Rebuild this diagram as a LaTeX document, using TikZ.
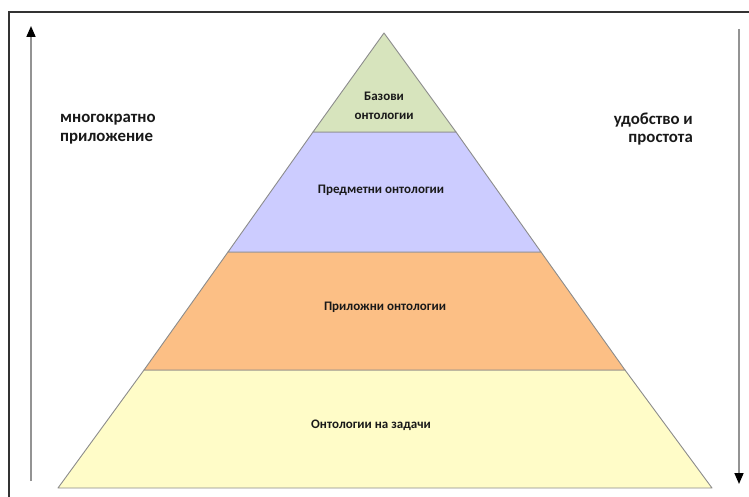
\documentclass[tikz,border=0pt]{standalone}
\usepackage{fontspec}
\setmainfont{Carlito}
\usetikzlibrary{arrows.meta}
\definecolor{tierA}{HTML}{D7E4BD}
\definecolor{tierB}{HTML}{CCCCFF}
\definecolor{tierC}{HTML}{FCBF85}
\definecolor{tierD}{HTML}{FFFCC8}
\definecolor{edgegray}{HTML}{8C8C8C}
\tikzset{
  tier/.style={draw=edgegray, line width=0.9pt, line join=round},
  tierlabel/.style={font=\bfseries\fontsize{13}{19}\selectfont, text=black!90, align=center},
  sidelabel/.style={font=\bfseries\fontsize{16.8}{18.5}\selectfont, text=black!90, inner sep=0pt},
  axis/.style={draw=gray!85, line width=1.6pt, -{Triangle[length=11pt,width=9pt,color=black]}},
  frameline/.style={draw=black!80, line width=1.4pt}
}
\begin{document}
\begin{tikzpicture}[x=1pt,y=-1pt]
\useasboundingbox (0,0) rectangle (749,497);
\fill[white] (0,0) rectangle (749,497);
% partial frame
\draw[frameline] (9,497) -- (9,12) -- (749,12);
% pyramid corners
\coordinate (apex) at (384,33);
\coordinate (l1) at (313,132); \coordinate (r1) at (456,132);
\coordinate (l2) at (228,252); \coordinate (r2) at (541,252);
\coordinate (l3) at (144,370); \coordinate (r3) at (625,370);
\coordinate (l4) at (58,488);  \coordinate (r4) at (712,488);
% tiers
\filldraw[tier, fill=tierD] (l3) -- (r3) -- (r4) -- (l4) -- cycle;
\filldraw[tier, fill=tierC] (l2) -- (r2) -- (r3) -- (l3) -- cycle;
\filldraw[tier, fill=tierB] (l1) -- (r1) -- (r2) -- (l2) -- cycle;
\filldraw[tier, fill=tierA] (apex) -- (r1) -- (l1) -- cycle;
% tier labels
\node[tierlabel] (base) at (384,106) {Базови\\онтологии};
\node[tierlabel] (domain) at (381,190) {Предметни онтологии};
\node[tierlabel] (app) at (385,307) {Приложни онтологии};
\node[tierlabel] (task) at (371,425) {Онтологии на задачи};
% side axes
\coordinate (la) at (31,481); \coordinate (lb) at (31,26);
\coordinate (ra) at (739,29); \coordinate (rb) at (739,484);
\draw[axis] (la) -- (lb);
\draw[axis] (ra) -- (rb);
\node[sidelabel, anchor=west, align=left] (reuse) at (60,129) {многократно\\приложение};
\node[sidelabel, anchor=east, align=right] (ease) at (693,129) {удобство и\\простота};
\end{tikzpicture}
\end{document}
